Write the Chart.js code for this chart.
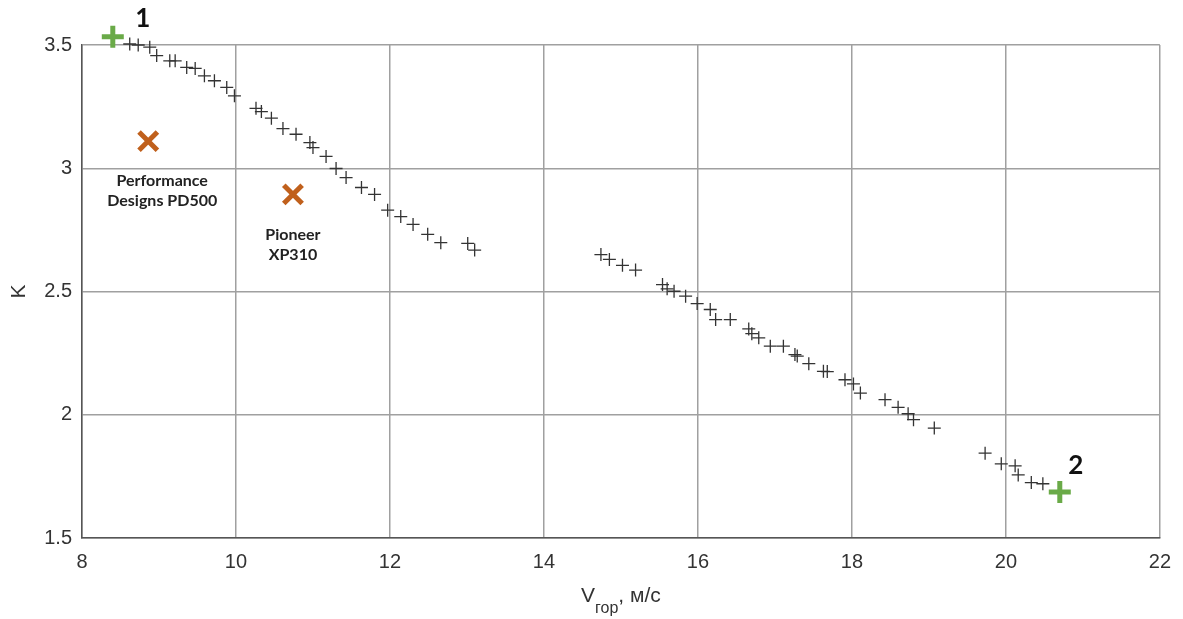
<!DOCTYPE html>
<html>
<head>
<meta charset="utf-8">
<script src="https://cdn.jsdelivr.net/npm/chart.js@4"></script>
<style>
  html, body { margin: 0; padding: 0; background: #fff; }
  #wrap { width: 1183px; height: 619px; }
</style>
</head>
<body>
<div id="wrap"><canvas id="kChart" width="1183" height="619"></canvas></div>
<script>
// расчётные точки K(V_гор)
const calcV = [8.62, 8.73, 8.88, 8.97, 9.14, 9.21, 9.36, 9.47, 9.59, 9.72, 9.88, 9.98,
  10.26, 10.33, 10.46, 10.61, 10.78, 10.96, 11.00, 11.17, 11.30, 11.43, 11.63, 11.80,
  11.97, 12.14, 12.30, 12.49, 12.66, 13.01, 13.10,
  14.74, 14.85, 15.02, 15.19, 15.54, 15.60, 15.69, 15.84, 15.99, 16.16, 16.23, 16.42,
  16.66, 16.70, 16.79, 16.94, 17.11, 17.26, 17.29, 17.44, 17.63, 17.68, 17.91, 18.02,
  18.11, 18.43, 18.60, 18.73, 18.80, 19.07, 19.73, 19.94, 20.12, 20.16, 20.33, 20.48];
const calcK = [3.504, 3.500, 3.491, 3.457, 3.436, 3.436, 3.409, 3.405, 3.375, 3.355, 3.328, 3.294,
  3.243, 3.230, 3.203, 3.161, 3.138, 3.104, 3.084, 3.048, 2.999, 2.962, 2.922, 2.894,
  2.830, 2.804, 2.772, 2.732, 2.698, 2.695, 2.668,
  2.650, 2.630, 2.606, 2.587, 2.528, 2.511, 2.501, 2.481, 2.451, 2.427, 2.386, 2.386,
  2.348, 2.329, 2.312, 2.278, 2.278, 2.244, 2.238, 2.207, 2.176, 2.175, 2.142, 2.125,
  2.088, 2.061, 2.030, 2.004, 1.980, 1.946, 1.844, 1.801, 1.793, 1.756, 1.725, 1.720];

// крайние режимы 1 и 2
const modeV = [8.40, 20.70];
const modeK = [3.533, 1.687];
const modeNames = ['1', '2'];

// серийные купола
const canopyV = [8.86, 10.74];
const canopyK = [3.11, 2.894];
const canopyNames = [['Performance', 'Designs PD500'], ['Pioneer', 'XP310']];

const xTicks = [8, 10, 12, 14, 16, 18, 20, 22];
const yTicks = [1.5, 2, 2.5, 3, 3.5];

const toXY = (xs, ys) => xs.map((v, i) => ({ x: v, y: ys[i] }));

const annotate = {
  id: 'annotate',
  afterDatasetsDraw(chart) {
    const { ctx, scales: { x, y } } = chart;
    ctx.save();
    ctx.fillStyle = '#111';
    ctx.textAlign = 'center';
    ctx.textBaseline = 'middle';
    ctx.font = 'bold 26px "Lato", "Liberation Sans", sans-serif';
    ctx.fillText(modeNames[0], x.getPixelForValue(modeV[0]) + 30, y.getPixelForValue(modeK[0]) - 18);
    ctx.fillText(modeNames[1], x.getPixelForValue(modeV[1]) + 16, y.getPixelForValue(modeK[1]) - 26);

    ctx.font = 'bold 16px "Lato", "Liberation Sans", sans-serif';
    ctx.fillStyle = '#222';
    canopyNames.forEach((lines, i) => {
      const px = x.getPixelForValue(canopyV[i]) + (i === 0 ? 14 : 0);
      const py = y.getPixelForValue(canopyK[i]);
      lines.forEach((t, j) => ctx.fillText(t, px, py + 40 + j * 20));
    });

    // подписи осей
    ctx.fillStyle = '#333';
    ctx.textAlign = 'left';
    ctx.textBaseline = 'alphabetic';
    const mid = (chart.chartArea.left + chart.chartArea.right) / 2;
    const big = '21px "Liberation Sans", sans-serif';
    const small = '16px "Liberation Sans", sans-serif';
    ctx.font = big;
    const wV = ctx.measureText('V').width;
    const tail = ', м/с';
    const wT = ctx.measureText(tail).width;
    ctx.font = small;
    const wS = ctx.measureText('гор').width;
    const sx = mid - (wV + wS + wT) / 2;
    ctx.font = big;
    ctx.fillText('V', sx, 602);
    ctx.font = small;
    ctx.fillText('гор', sx + wV, 613);
    ctx.font = big;
    ctx.fillText(tail, sx + wV + wS, 602);

    ctx.translate(19, (chart.chartArea.top + chart.chartArea.bottom) / 2);
    ctx.rotate(-Math.PI / 2);
    ctx.textAlign = 'center';
    ctx.textBaseline = 'middle';
    ctx.fillText('K', 0, 0);
    ctx.restore();
  }
};

new Chart(document.getElementById('kChart').getContext('2d'), {
  type: 'scatter',
  data: {
    datasets: [
      {
        label: 'расчёт',
        data: toXY(calcV, calcK),
        pointStyle: 'cross',
        radius: 6.5,
        borderWidth: 1.3,
        borderColor: '#333',
        clip: false
      },
      {
        label: 'режимы',
        data: toXY(modeV, modeK),
        pointStyle: 'cross',
        radius: 11,
        borderWidth: 5,
        borderColor: '#6aaa48',
        clip: false
      },
      {
        label: 'купола',
        data: toXY(canopyV, canopyK),
        pointStyle: 'crossRot',
        radius: 13,
        borderWidth: 5,
        borderColor: '#c0601c',
        clip: false
      }
    ]
  },
  options: {
    responsive: false,
    animation: false,
    layout: { padding: { top: 45, right: 15, bottom: 0, left: 0 } },
    plugins: { legend: { display: false }, tooltip: { enabled: false } },
    scales: {
      x: {
        type: 'linear',
        min: 8, max: 22,
        afterBuildTicks: s => { s.ticks = xTicks.map(v => ({ value: v })); },
        afterFit: s => { s.height = 81; },
        grid: { color: '#a0a0a0', lineWidth: 1.5, drawTicks: false },
        border: { color: '#555', width: 1.5 },
        ticks: {
          padding: 12,
          color: '#333',
          font: { family: '"Liberation Sans Narrow", "Liberation Sans", sans-serif', size: 20 }
        }
      },
      y: {
        type: 'linear',
        min: 1.5, max: 3.5,
        afterBuildTicks: s => { s.ticks = yTicks.map(v => ({ value: v })); },
        afterFit: s => { s.width = 82; },
        grid: { color: '#a0a0a0', lineWidth: 1.5, drawTicks: false },
        border: { color: '#555', width: 1.5 },
        ticks: {
          padding: 10,
          color: '#333',
          callback: v => String(v),
          font: { family: '"Liberation Sans", sans-serif', size: 20 }
        }
      }
    }
  },
  plugins: [annotate]
});
</script>
</body>
</html>
